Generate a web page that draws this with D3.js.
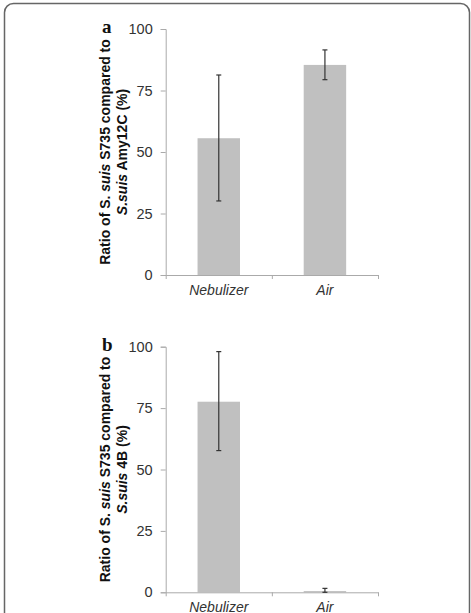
<!DOCTYPE html>
<html lang="en">
  <head>
    <meta charset="utf-8">
    <title>S. suis ratio</title>
    <script src="https://d3js.org/d3.v7.min.js"></script>
    <style>
      body { margin: 0; background: white; }
      .tick text { font-family: "Liberation Sans", Arial, sans-serif; fill: #333; }
    </style>
  </head>
  <body>
    <svg width="471" height="613"></svg>
    <script>
      // data
      var categories = ["Nebulizer", "Air"];
      var yTicks = [0, 25, 50, 75, 100];
      var valuesA = [55.6, 85.4];
      var errLowA = [30.1, 79.4];
      var errHighA = [81.3, 91.5];
      var valuesB = [77.6, 0.5];
      var errLowB = [57.7, 0.0];
      var errHighB = [98.0, 1.6];

      var svg = d3.select("svg");

      // rounded frame, runs off the bottom
      svg.append("rect").attr("x", 4.5).attr("y", 3.5)
        .attr("width", 465).attr("height", 640)
        .attr("rx", 9).attr("fill", "none")
        .attr("stroke", "#666").attr("stroke-width", 1.5);

      function panel(letter, top, bottom, vals, lo, hi, title2) {
        var left = 165.7, right = 378;
        var y = d3.scaleLinear().domain([0, 100]).range([bottom, top]);
        var x = d3.scaleBand().domain(categories).range([left, right])
          .paddingInner(0.6).paddingOuter(0.3);
        var xEdge = d3.scaleLinear().domain([0, 2]).range([left, right]);

        var g = svg.append("g");

        // y axis
        var ya = g.append("g").attr("transform", "translate(" + left + ",0)")
          .call(d3.axisLeft(y).tickValues(yTicks).tickSizeOuter(0).tickSize(5).tickPadding(8));
        ya.selectAll("path, line").attr("stroke", "#aaa");
        ya.selectAll("text").attr("font-size", 14.5);

        // bars
        g.selectAll(".bar").data(vals).enter().append("rect")
          .attr("x", function(d, i) { return x(categories[i]); })
          .attr("width", x.bandwidth())
          .attr("y", function(d) { return y(d); })
          .attr("height", function(d) { return bottom - y(d); })
          .attr("fill", "#c0c0c0");

        // x axis: boundary ticks + category labels
        var xa = g.append("g").attr("transform", "translate(0," + bottom + ")")
          .call(d3.axisBottom(xEdge).tickValues([0, 1, 2]).tickFormat("").tickSize(4).tickSizeOuter(0));
        xa.selectAll("path, line").attr("stroke", "#aaa");
        var xl = g.append("g").attr("transform", "translate(0," + bottom + ")")
          .call(d3.axisBottom(x).tickSize(0).tickPadding(10));
        xl.select(".domain").remove();
        xl.selectAll("text").attr("font-size", 14).attr("font-style", "italic");

        // error bars
        vals.forEach(function(d, i) {
          var cx = x(categories[i]) + x.bandwidth() / 2;
          g.append("line").attr("x1", cx).attr("x2", cx)
            .attr("y1", y(lo[i])).attr("y2", y(hi[i]))
            .attr("stroke", "#333").attr("stroke-width", 1.2);
          [lo[i], hi[i]].forEach(function(v) {
            g.append("line").attr("x1", cx - 2.5).attr("x2", cx + 2.5)
              .attr("y1", y(v)).attr("y2", y(v))
              .attr("stroke", "#333").attr("stroke-width", 1.2);
          });
        });

        // panel letter
        g.append("text").attr("x", 102).attr("y", top + 4)
          .attr("font-family", "Liberation Serif, serif").attr("font-weight", "bold")
          .attr("font-size", 19).attr("fill", "#111").text(letter);

        // y title, two lines
        var cy = (top + bottom) / 2;
        var t = g.append("text").attr("transform", "rotate(-90)")
          .attr("text-anchor", "middle")
          .attr("font-family", "Liberation Sans, Arial, sans-serif")
          .attr("font-weight", "bold").attr("font-size", 14).attr("fill", "#111");
        var l1 = t.append("tspan").attr("x", -cy).attr("y", 110);
        l1.append("tspan").text("Ratio of S. ");
        l1.append("tspan").attr("font-style", "italic").text("suis");
        l1.append("tspan").text(" S735 compared to");
        var l2 = t.append("tspan").attr("x", -cy).attr("y", 127);
        l2.append("tspan").attr("font-style", "italic").text("S.suis");
        l2.append("tspan").text(title2);
      }

      panel("a", 29, 275, valuesA, errLowA, errHighA, " Amy12C (%)");
      panel("b", 346.7, 592.3, valuesB, errLowB, errHighB, " 4B (%)");
    </script>
  </body>
</html>
